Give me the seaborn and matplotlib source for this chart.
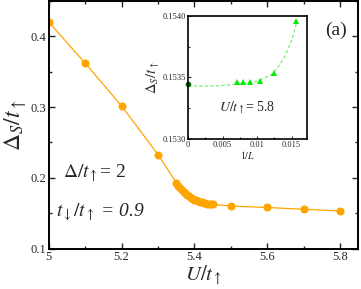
import numpy as np
import pandas as pd
import matplotlib
matplotlib.use("Agg")
import matplotlib.pyplot as plt
from matplotlib.ticker import MultipleLocator, FixedLocator
import seaborn as sns

# ---- data ----
U_vals = [5.0, 5.1, 5.2, 5.3, 5.35, 5.355, 5.36, 5.365, 5.37, 5.375, 5.38, 5.385,
          5.39, 5.395, 5.40, 5.405, 5.41, 5.415, 5.42, 5.425, 5.43, 5.435, 5.44,
          5.445, 5.45, 5.5, 5.6, 5.7, 5.8]
gap_vals = [0.420, 0.362, 0.3015, 0.2327, 0.193, 0.189, 0.186, 0.183, 0.180, 0.178,
            0.176, 0.174, 0.172, 0.1705, 0.169, 0.168, 0.167, 0.166, 0.1655, 0.165,
            0.164, 0.1635, 0.163, 0.1628, 0.1625, 0.160, 0.158, 0.1555, 0.153]

invL_vals = [1/140, 1/125, 1/112, 1/96, 1/80, 1/64]
gapL_vals = [0.15346, 0.15346, 0.15346, 0.15347, 0.15354, 0.15396]
extrap_x = [0.0]
extrap_y = [0.15345]
fit_x = [0.0, 0.004, 0.008, 0.010, 0.012, 0.013, 0.014, 0.015, 0.0158]
fit_y = [0.15343, 0.15343, 0.15345, 0.15347, 0.15352, 0.15358, 0.15367, 0.15380, 0.15396]

main_xticks = [5.0, 5.2, 5.4, 5.6, 5.8]
main_xticklabels = ["5", "5.2", "5.4", "5.6", "5.8"]
main_yticks = [0.1, 0.2, 0.3, 0.4]
main_yticklabels = ["0.1", "0.2", "0.3", "0.4"]
inset_xticks = [0, 0.005, 0.01, 0.015]
inset_xticklabels = ["0", "0.005", "0.01", "0.015"]
inset_yticks = [0.1530, 0.1535, 0.1540]
inset_yticklabels = ["0.1530", "0.1535", "0.1540"]

sns.set_style("ticks")
plt.rcParams["font.family"] = ["Liberation Serif", "DejaVu Serif"]
plt.rcParams["mathtext.fontset"] = "stix"

fig = plt.figure(figsize=(3.61, 2.89), dpi=100)
ax = fig.add_axes([0.135, 0.140, 0.858, 0.857])

orange = "#FFA500"
df_main = pd.DataFrame({"U": U_vals, "gap": gap_vals})
sns.lineplot(data=df_main, x="U", y="gap", ax=ax, color=orange, lw=0.9,
             marker="o", markersize=5.8, markeredgewidth=0, estimator=None, sort=False)

ax.set_xlim(5.0, 5.85)
ax.set_ylim(0.1, 0.45)
ax.xaxis.set_major_locator(FixedLocator(main_xticks))
ax.set_xticklabels(main_xticklabels)
ax.yaxis.set_major_locator(FixedLocator(main_yticks))
ax.set_yticklabels(main_yticklabels)
ax.xaxis.set_minor_locator(MultipleLocator(0.1))
ax.yaxis.set_minor_locator(MultipleLocator(0.05))
ax.tick_params(which="both", direction="in", top=True, right=True, labelsize=9, pad=2)
ax.tick_params(which="major", length=4, width=1)
ax.tick_params(which="minor", length=2, width=1)
for s in ax.spines.values():
    s.set_linewidth(1.4)
    s.set_color("black")
ax.set_xlabel(r"$U/t_\uparrow$", fontsize=15, labelpad=0)
ax.set_ylabel(r"$\Delta_S/t_\uparrow$", fontsize=17, labelpad=1)

ax.text(5.04, 0.207, r"$\Delta/t_\uparrow$= 2", fontsize=14, va="center", ha="left")
ax.text(5.02, 0.152, r"$t_\downarrow/t_\uparrow$ = 0.9", fontsize=14, va="center", ha="left",
        style="italic")
ax.text(5.787, 0.408, "(a)", fontsize=14, ha="center", va="center")

# ---- inset ----
axi = fig.add_axes([0.521, 0.519, 0.329, 0.426])
sns.lineplot(x=fit_x, y=fit_y, ax=axi, color="#66EE66", lw=0.8, linestyle=(0, (3, 2)),
             estimator=None, sort=False)
sns.lineplot(x=invL_vals, y=gapL_vals, ax=axi, color="#00EE00", lw=0, marker="^",
             markersize=4, markeredgewidth=0, estimator=None, sort=False)
sns.lineplot(x=extrap_x, y=extrap_y, ax=axi, color="#006400", lw=0, marker="o",
             markersize=4, markeredgewidth=0, estimator=None, sort=False, clip_on=False)
axi.set_xlim(0, 0.0172)
axi.set_ylim(0.1530, 0.1540)
axi.xaxis.set_major_locator(FixedLocator(inset_xticks))
axi.set_xticklabels(inset_xticklabels)
axi.yaxis.set_major_locator(FixedLocator(inset_yticks))
axi.set_yticklabels(inset_yticklabels)
axi.xaxis.set_minor_locator(MultipleLocator(0.0025))
axi.yaxis.set_minor_locator(MultipleLocator(0.00025))
axi.tick_params(which="both", direction="in", labelsize=6, pad=1.5)
axi.tick_params(which="major", length=2.5, width=0.8)
axi.tick_params(which="minor", length=1.5, width=0.8)
for s in axi.spines.values():
    s.set_linewidth(1.2)
    s.set_color("black")
axi.set_xlabel(r"$1/L$", fontsize=7, labelpad=0)
axi.set_ylabel(r"$\Delta_S/t_\uparrow$", fontsize=10.5, labelpad=1)
axi.text(0.5, 0.25, r"$U/t_\uparrow$= 5.8", transform=axi.transAxes, fontsize=10,
         ha="center", va="center")

fig.savefig("out.png", dpi=100)
